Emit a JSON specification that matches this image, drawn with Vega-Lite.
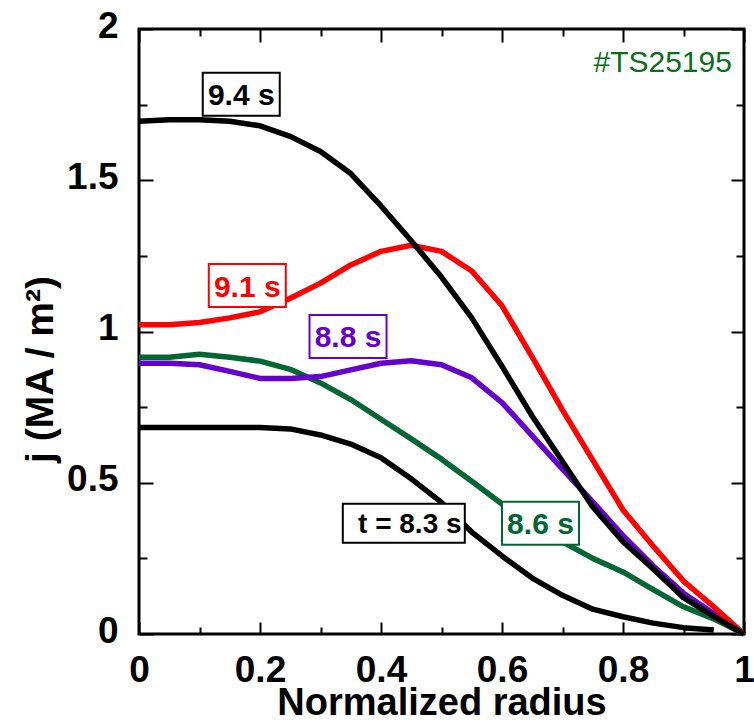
{
  "$schema": "https://vega.github.io/schema/vega-lite/v6.json",
  "width": 605,
  "height": 605,
  "autosize": "none",
  "padding": {"left": 139, "top": 29, "right": 10, "bottom": 89},
  "background": "white",
  "config": {
    "font": "Liberation Sans",
    "view": {"stroke": "black", "strokeWidth": 3},
    "axis": {"grid": false, "domain": false, "labelFlush": false, "labelBound": false, "labelOverlap": false, "tickColor": "black", "tickWidth": 2, "labelColor": "black", "titleColor": "black", "format": "~g"}
  },
  "datasets": {
    "lines": [
      {"t": "8.6 s", "r": 0, "j": 0.915}, {"t": "8.6 s", "r": 0.05, "j": 0.915}, {"t": "8.6 s", "r": 0.1, "j": 0.925}, {"t": "8.6 s", "r": 0.15, "j": 0.915}, {"t": "8.6 s", "r": 0.2, "j": 0.902}, {"t": "8.6 s", "r": 0.25, "j": 0.875}, {"t": "8.6 s", "r": 0.3, "j": 0.83}, {"t": "8.6 s", "r": 0.35, "j": 0.775}, {"t": "8.6 s", "r": 0.4, "j": 0.71}, {"t": "8.6 s", "r": 0.45, "j": 0.645}, {"t": "8.6 s", "r": 0.5, "j": 0.578}, {"t": "8.6 s", "r": 0.55, "j": 0.505}, {"t": "8.6 s", "r": 0.6, "j": 0.43}, {"t": "8.6 s", "r": 0.65, "j": 0.365}, {"t": "8.6 s", "r": 0.7, "j": 0.305}, {"t": "8.6 s", "r": 0.75, "j": 0.25}, {"t": "8.6 s", "r": 0.8, "j": 0.205}, {"t": "8.6 s", "r": 0.85, "j": 0.147}, {"t": "8.6 s", "r": 0.9, "j": 0.09}, {"t": "8.6 s", "r": 0.95, "j": 0.05}, {"t": "8.6 s", "r": 1, "j": 0},
      {"t": "8.8 s", "r": 0, "j": 0.895}, {"t": "8.8 s", "r": 0.05, "j": 0.895}, {"t": "8.8 s", "r": 0.1, "j": 0.89}, {"t": "8.8 s", "r": 0.15, "j": 0.868}, {"t": "8.8 s", "r": 0.2, "j": 0.845}, {"t": "8.8 s", "r": 0.25, "j": 0.845}, {"t": "8.8 s", "r": 0.3, "j": 0.851}, {"t": "8.8 s", "r": 0.35, "j": 0.873}, {"t": "8.8 s", "r": 0.4, "j": 0.895}, {"t": "8.8 s", "r": 0.45, "j": 0.903}, {"t": "8.8 s", "r": 0.5, "j": 0.89}, {"t": "8.8 s", "r": 0.55, "j": 0.847}, {"t": "8.8 s", "r": 0.6, "j": 0.765}, {"t": "8.8 s", "r": 0.65, "j": 0.655}, {"t": "8.8 s", "r": 0.7, "j": 0.545}, {"t": "8.8 s", "r": 0.75, "j": 0.437}, {"t": "8.8 s", "r": 0.8, "j": 0.325}, {"t": "8.8 s", "r": 0.85, "j": 0.225}, {"t": "8.8 s", "r": 0.9, "j": 0.135}, {"t": "8.8 s", "r": 0.95, "j": 0.068}, {"t": "8.8 s", "r": 1, "j": 0},
      {"t": "9.1 s", "r": 0, "j": 1.022}, {"t": "9.1 s", "r": 0.05, "j": 1.022}, {"t": "9.1 s", "r": 0.1, "j": 1.03}, {"t": "9.1 s", "r": 0.15, "j": 1.045}, {"t": "9.1 s", "r": 0.2, "j": 1.065}, {"t": "9.1 s", "r": 0.25, "j": 1.11}, {"t": "9.1 s", "r": 0.3, "j": 1.16}, {"t": "9.1 s", "r": 0.35, "j": 1.22}, {"t": "9.1 s", "r": 0.4, "j": 1.265}, {"t": "9.1 s", "r": 0.45, "j": 1.285}, {"t": "9.1 s", "r": 0.5, "j": 1.265}, {"t": "9.1 s", "r": 0.55, "j": 1.2}, {"t": "9.1 s", "r": 0.6, "j": 1.085}, {"t": "9.1 s", "r": 0.65, "j": 0.915}, {"t": "9.1 s", "r": 0.7, "j": 0.74}, {"t": "9.1 s", "r": 0.75, "j": 0.575}, {"t": "9.1 s", "r": 0.8, "j": 0.41}, {"t": "9.1 s", "r": 0.85, "j": 0.29}, {"t": "9.1 s", "r": 0.9, "j": 0.175}, {"t": "9.1 s", "r": 0.95, "j": 0.09}, {"t": "9.1 s", "r": 1, "j": 0},
      {"t": "8.3 s", "r": 0, "j": 0.683}, {"t": "8.3 s", "r": 0.05, "j": 0.683}, {"t": "8.3 s", "r": 0.1, "j": 0.683}, {"t": "8.3 s", "r": 0.15, "j": 0.683}, {"t": "8.3 s", "r": 0.2, "j": 0.683}, {"t": "8.3 s", "r": 0.25, "j": 0.678}, {"t": "8.3 s", "r": 0.3, "j": 0.658}, {"t": "8.3 s", "r": 0.35, "j": 0.628}, {"t": "8.3 s", "r": 0.4, "j": 0.583}, {"t": "8.3 s", "r": 0.45, "j": 0.513}, {"t": "8.3 s", "r": 0.5, "j": 0.435}, {"t": "8.3 s", "r": 0.55, "j": 0.337}, {"t": "8.3 s", "r": 0.6, "j": 0.258}, {"t": "8.3 s", "r": 0.65, "j": 0.185}, {"t": "8.3 s", "r": 0.7, "j": 0.128}, {"t": "8.3 s", "r": 0.75, "j": 0.082}, {"t": "8.3 s", "r": 0.8, "j": 0.057}, {"t": "8.3 s", "r": 0.85, "j": 0.036}, {"t": "8.3 s", "r": 0.9, "j": 0.021}, {"t": "8.3 s", "r": 0.95, "j": 0.013},
      {"t": "9.4 s", "r": 0, "j": 1.695}, {"t": "9.4 s", "r": 0.05, "j": 1.7}, {"t": "9.4 s", "r": 0.1, "j": 1.7}, {"t": "9.4 s", "r": 0.15, "j": 1.695}, {"t": "9.4 s", "r": 0.2, "j": 1.68}, {"t": "9.4 s", "r": 0.25, "j": 1.645}, {"t": "9.4 s", "r": 0.3, "j": 1.595}, {"t": "9.4 s", "r": 0.35, "j": 1.522}, {"t": "9.4 s", "r": 0.4, "j": 1.415}, {"t": "9.4 s", "r": 0.45, "j": 1.3}, {"t": "9.4 s", "r": 0.5, "j": 1.18}, {"t": "9.4 s", "r": 0.55, "j": 1.045}, {"t": "9.4 s", "r": 0.6, "j": 0.885}, {"t": "9.4 s", "r": 0.65, "j": 0.72}, {"t": "9.4 s", "r": 0.7, "j": 0.57}, {"t": "9.4 s", "r": 0.75, "j": 0.42}, {"t": "9.4 s", "r": 0.8, "j": 0.305}, {"t": "9.4 s", "r": 0.85, "j": 0.215}, {"t": "9.4 s", "r": 0.9, "j": 0.12}, {"t": "9.4 s", "r": 0.95, "j": 0.058}, {"t": "9.4 s", "r": 1, "j": 0}
    ],
    "labels": [
      {"t": "9.4 s", "label": "9.4 s", "x": 0.169, "y": 1.784},
      {"t": "9.1 s", "label": "9.1 s", "x": 0.179, "y": 1.152},
      {"t": "8.8 s", "label": "8.8 s", "x": 0.3455, "y": 0.9835},
      {"t": "8.6 s", "label": "8.6 s", "x": 0.6636, "y": 0.366},
      {"t": "8.3 s", "label": "t = 8.3 s", "x": 0.4377, "y": 0.366}
    ],
    "tag": [
      {"label": "#TS25195", "x": 0.98, "y": 1.857}
    ]
  },
  "layer": [
    {
      "data": {"name": "lines"},
      "mark": {"type": "line", "strokeWidth": 5.5, "strokeCap": "butt", "strokeJoin": "round"},
      "encoding": {
        "x": {"field": "r", "type": "quantitative", "scale": {"domain": [0, 1], "nice": false, "zero": false},
          "axis": {"orient": "bottom", "values": [0, 0.2, 0.4, 0.6, 0.8, 1], "ticks": false, "labelPadding": 18, "labelFontSize": 37, "labelFontWeight": "bold", "labelBaseline": "top",
            "title": "Normalized radius", "titleFontSize": 38, "titleFontWeight": "bold", "titleBaseline": "alphabetic", "titleY": 80}},
        "y": {"field": "j", "type": "quantitative", "scale": {"domain": [0, 2], "nice": false, "zero": false},
          "axis": {"orient": "left", "values": [0, 0.5, 1, 1.5, 2], "ticks": false, "labelPadding": 21, "labelFontSize": 37, "labelFontWeight": "bold", "labelBaseline": "middle", "labelOffset": -3,
            "title": "j (MA / m²)", "titleFontSize": 39, "titleFontWeight": "bold", "titleAngle": -90, "titleBaseline": "bottom", "titleAlign": "center", "titleX": -79, "titleY": 340}},
        "color": {"field": "t", "type": "nominal", "legend": null,
          "scale": {"domain": ["8.6 s", "8.8 s", "9.1 s", "8.3 s", "9.4 s"], "range": ["#006633", "#6600CC", "#FF0000", "#000000", "#000000"]}},
        "detail": {"field": "t"},
        "order": {"field": "r", "type": "quantitative"}
      }
    },
    {
      "data": {"name": "labels"},
      "transform": [{"filter": "datum.t !== '8.3 s'"}],
      "mark": {"type": "point", "shape": "M-1,-0.5584L1,-0.5584L1,0.5584L-1,0.5584Z", "size": 5929, "filled": true, "fill": "white", "opacity": 1, "fillOpacity": 1, "strokeWidth": 2},
      "encoding": {
        "x": {"field": "x", "type": "quantitative", "scale": {"domain": [0, 1], "nice": false, "zero": false},
          "axis": {"orient": "bottom", "values": [0, 0.2, 0.4, 0.6, 0.8, 1], "labels": false, "tickSize": -12, "title": null}},
        "y": {"field": "y", "type": "quantitative", "scale": {"domain": [0, 2], "nice": false, "zero": false},
          "axis": {"orient": "left", "values": [0, 0.5, 1, 1.5, 2], "labels": false, "tickSize": -14, "title": null}},
        "stroke": {"field": "t", "type": "nominal", "legend": null,
          "scale": {"domain": ["8.6 s", "8.8 s", "9.1 s", "8.3 s", "9.4 s"], "range": ["#006633", "#6600CC", "#FF0000", "#000000", "#000000"]}}
      }
    },
    {
      "data": {"name": "labels"},
      "transform": [{"filter": "datum.t === '8.3 s'"}],
      "mark": {"type": "point", "shape": "M-1,-0.3197L1,-0.3197L1,0.3197L-1,0.3197Z", "size": 14884, "filled": true, "fill": "white", "opacity": 1, "fillOpacity": 1, "strokeWidth": 2},
      "encoding": {
        "x": {"field": "x", "type": "quantitative", "scale": {"domain": [0, 1], "nice": false, "zero": false},
          "axis": {"orient": "bottom", "values": [0.1, 0.3, 0.5, 0.7, 0.9], "labels": false, "tickSize": -7, "title": null}},
        "y": {"field": "y", "type": "quantitative", "scale": {"domain": [0, 2], "nice": false, "zero": false},
          "axis": {"orient": "left", "values": [0.25, 0.75, 1.25, 1.75], "labels": false, "tickSize": -8, "title": null}},
        "stroke": {"field": "t", "type": "nominal", "legend": null,
          "scale": {"domain": ["8.6 s", "8.8 s", "9.1 s", "8.3 s", "9.4 s"], "range": ["#006633", "#6600CC", "#FF0000", "#000000", "#000000"]}}
      }
    },
    {
      "data": {"name": "labels"},
      "transform": [{"filter": "datum.t !== '8.3 s'"}],
      "mark": {"type": "text", "fontSize": 30, "fontWeight": "bold", "align": "center", "baseline": "middle", "dy": 2},
      "encoding": {
        "x": {"field": "x", "type": "quantitative", "scale": {"domain": [0, 1], "nice": false, "zero": false},
          "axis": {"orient": "top", "values": [0, 0.2, 0.4, 0.6, 0.8, 1], "labels": false, "tickSize": -13, "title": null}},
        "y": {"field": "y", "type": "quantitative", "scale": {"domain": [0, 2], "nice": false, "zero": false},
          "axis": {"orient": "right", "values": [0, 0.5, 1, 1.5, 2], "labels": false, "tickSize": -13, "title": null}},
        "text": {"field": "label"},
        "color": {"field": "t", "type": "nominal", "legend": null}
      }
    },
    {
      "data": {"name": "labels"},
      "transform": [{"filter": "datum.t === '8.3 s'"}],
      "mark": {"type": "text", "fontSize": 28, "fontWeight": "bold", "align": "center", "baseline": "middle", "dy": 2, "dx": 6},
      "encoding": {
        "x": {"field": "x", "type": "quantitative", "scale": {"domain": [0, 1], "nice": false, "zero": false},
          "axis": {"orient": "top", "values": [0.1, 0.3, 0.5, 0.7, 0.9], "labels": false, "tickSize": -7, "title": null}},
        "y": {"field": "y", "type": "quantitative", "scale": {"domain": [0, 2], "nice": false, "zero": false},
          "axis": {"orient": "right", "values": [0.25, 0.75, 1.25, 1.75], "labels": false, "tickSize": -8, "title": null}},
        "text": {"field": "label"},
        "color": {"field": "t", "type": "nominal", "legend": null}
      }
    },
    {
      "data": {"name": "tag"},
      "mark": {"type": "text", "fontSize": 30, "fontWeight": "normal", "align": "right", "baseline": "alphabetic", "color": "#0A6E1E"},
      "encoding": {
        "x": {"field": "x", "type": "quantitative", "scale": {"domain": [0, 1], "nice": false, "zero": false}, "axis": null},
        "y": {"field": "y", "type": "quantitative", "scale": {"domain": [0, 2], "nice": false, "zero": false}, "axis": null},
        "text": {"field": "label"}
      }
    }
  ],
  "resolve": {"axis": {"x": "independent", "y": "independent"}}
}
